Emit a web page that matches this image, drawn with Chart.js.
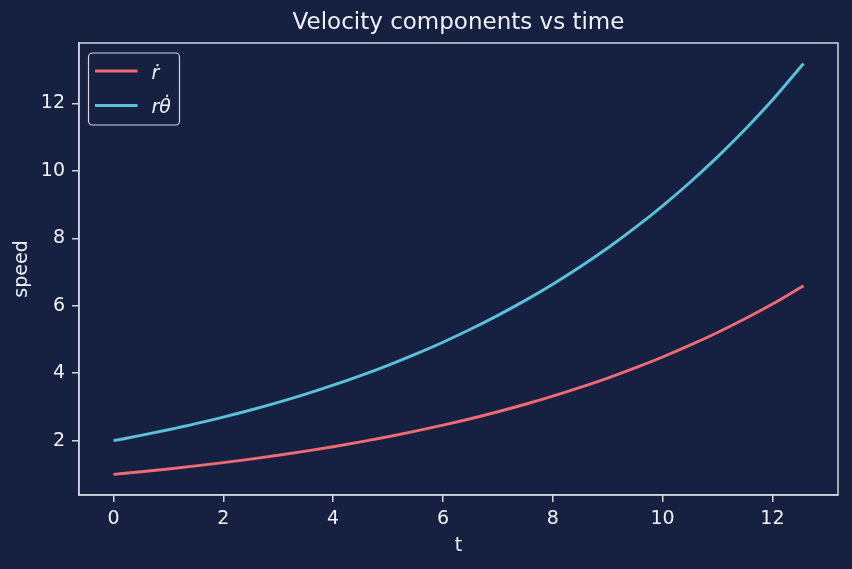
<!DOCTYPE html>
<html><head><meta charset="utf-8">
<script src="https://cdn.jsdelivr.net/npm/chart.js@4"></script>
<style>html,body{margin:0;padding:0;background:#162040;}#wrap{width:852px;height:569px;}</style>
</head><body><div id="wrap"><canvas id="c" width="852" height="569"></canvas></div>
<script>
const timeValues = [0, 0.5, 1, 1.5, 2, 2.5, 3, 3.5, 4, 4.5, 5, 5.5, 6, 6.5, 7, 7.5, 8, 8.5, 9, 9.5, 10, 10.5, 11, 11.5, 12, 12.566];
const rDot = [1.000, 1.078, 1.162, 1.252, 1.350, 1.455, 1.568, 1.690, 1.822, 1.964, 2.117, 2.282, 2.460, 2.651, 2.858, 3.080, 3.320, 3.579, 3.857, 4.158, 4.482, 4.831, 5.207, 5.613, 6.050, 6.591];
const rThetaDot = [2.000, 2.156, 2.324, 2.504, 2.700, 2.910, 3.136, 3.380, 3.644, 3.928, 4.234, 4.564, 4.920, 5.302, 5.716, 6.160, 6.640, 7.158, 7.714, 8.316, 8.964, 9.662, 10.414, 11.226, 12.100, 13.182];
const xTicks = [0, 2, 4, 6, 8, 10, 12];
const yTicks = [2, 4, 6, 8, 10, 12];
const seriesLabels = ['\u1E59', 'r\u03B8\u0307'];
const seriesColors = ['#ef6b73', '#5bc1da'];
const chartTitle = 'Velocity components vs time';

const BG = '#162040', FG = '#eef1f6', AX = '#cfd6e4';
const FONT = "'DejaVu Sans', sans-serif";

const bgPlugin = {
  id: 'bg',
  beforeDraw(chart) {
    const ctx = chart.ctx; ctx.save(); ctx.fillStyle = BG; ctx.fillRect(0, 0, chart.width, chart.height); ctx.restore();
  },
  afterDraw(chart) {
    const {ctx, chartArea: a} = chart;
    ctx.save();
    ctx.strokeStyle = AX; ctx.lineWidth = 1.5;
    ctx.strokeRect(a.left, a.top, a.right - a.left, a.bottom - a.top);
    // title
    ctx.fillStyle = FG; ctx.font = "23px " + FONT; ctx.textAlign = 'center'; ctx.textBaseline = 'alphabetic';
    ctx.fillText(chartTitle, (a.left + a.right) / 2, 29);
    // legend
    ctx.textAlign = 'left';
    const lx = a.left + 9.5, ly = a.top + 10, lw = 91, lh = 72;
    ctx.fillStyle = 'rgba(22,32,64,0.8)';
    ctx.beginPath(); ctx.roundRect(lx, ly, lw, lh, 4); ctx.fill();
    ctx.strokeStyle = AX; ctx.lineWidth = 1.2; ctx.stroke();
    chart.data.datasets.forEach((ds, i) => {
      const y = ly + 18 + i * 34.5;
      ctx.strokeStyle = ds.borderColor; ctx.lineWidth = 2.9;
      ctx.beginPath(); ctx.moveTo(lx + 6.5, y); ctx.lineTo(lx + 49, y); ctx.stroke();
      ctx.fillStyle = FG; ctx.font = "italic 19px " + FONT;
      ctx.fillText(ds.label, lx + 63, y + 7.5);
    });
    ctx.restore();
  }
};

new Chart(document.getElementById('c'), {
  type: 'line',
  data: {
    datasets: [
      {label: seriesLabels[0], data: timeValues.map((t, i) => ({x: t, y: rDot[i]})), borderColor: seriesColors[0]},
      {label: seriesLabels[1], data: timeValues.map((t, i) => ({x: t, y: rThetaDot[i]})), borderColor: seriesColors[1]}
    ].map(d => Object.assign(d, {borderWidth: 2.9, pointRadius: 0, fill: false, cubicInterpolationMode: 'monotone'}))
  },
  options: {
    responsive: false, animation: false,
    layout: {padding: {left: 7, right: 14, top: 43, bottom: 7.6}},
    plugins: {legend: {display: false}, tooltip: {enabled: false}, title: {display: false}},
    scales: {
      x: {
        type: 'linear', min: -0.628, max: 13.194,
        afterBuildTicks: s => { s.ticks = xTicks.map(v => ({value: v})); },
        afterFit: s => { s.height = 66.4; },
        ticks: {color: FG, font: {family: FONT, size: 19}, padding: 6, maxRotation: 0},
        grid: {display: true, drawOnChartArea: false, drawTicks: true, tickLength: 7, color: AX, lineWidth: 1.5},
        border: {display: true, color: AX, width: 1.5},
        title: {display: true, text: 't', color: FG, font: {family: FONT, size: 19}, padding: {top: 4, bottom: 4}}
      },
      y: {
        type: 'linear', min: 0.39, max: 13.79,
        afterBuildTicks: s => { s.ticks = yTicks.map(v => ({value: v})); },
        afterFit: s => { s.width = 72; },
        ticks: {color: FG, font: {family: FONT, size: 19}, padding: 7},
        grid: {display: true, drawOnChartArea: false, drawTicks: true, tickLength: 7, color: AX, lineWidth: 1.5},
        border: {display: true, color: AX, width: 1.5},
        title: {display: true, text: 'speed', color: FG, font: {family: FONT, size: 19}, padding: {top: 4, bottom: 4}}
      }
    }
  },
  plugins: [bgPlugin]
});
</script></body></html>
